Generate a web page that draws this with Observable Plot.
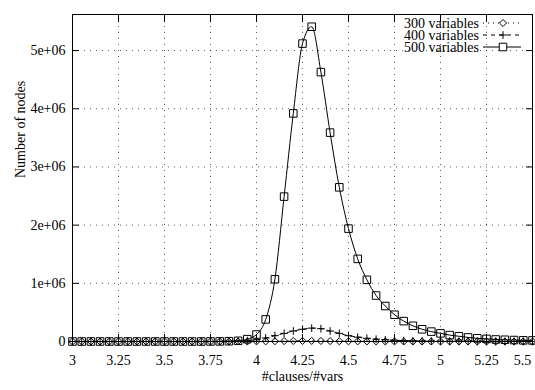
<!DOCTYPE html>
<html><head><meta charset="utf-8">
<script src="https://cdn.jsdelivr.net/npm/d3@7"></script>
<script src="https://cdn.jsdelivr.net/npm/@observablehq/plot@0.6"></script>
<style>
html,body{margin:0;padding:0;background:#fff;}
#wrap{position:relative;width:535px;height:390px;}
#wrap svg, #wrap svg text{font-family:"Liberation Serif","Times New Roman",Times,"DejaVu Serif",serif !important;}
#legend{position:absolute;top:0;left:0;pointer-events:none;}
</style></head><body><div id="wrap"></div>
<script>
const ratio = [3.00,3.05,3.10,3.15,3.20,3.25,3.30,3.35,3.40,3.45,3.50,3.55,3.60,3.65,3.70,3.75,3.80,3.85,3.90,3.95,
  4.00,4.05,4.10,4.15,4.20,4.25,4.30,4.35,4.40,4.45,4.50,4.55,4.60,4.65,4.70,4.75,4.80,4.85,4.90,4.95,
  5.00,5.05,5.10,5.15,5.20,5.25,5.30,5.35,5.40,5.45,5.50];
const nodes300 = [0,0,0,0,0,0,0,0,0,0,0,0,0,0,0,0,0,0,500,1000,
  2000,3000,5000,7000,9000,10000,10000,9000,7000,5000,4000,3000,2000,1500,1000,800,600,500,400,300,
  200,200,100,100,100,100,100,100,100,100,100];
const nodes400 = [0,0,0,0,0,0,0,0,0,0,0,0,0,0,0,0,1000,3000,8000,15000,
  30000,60000,100000,140000,180000,210000,230000,220000,180000,140000,100000,75000,55000,40000,30000,22000,16000,12000,9000,7000,
  5000,4000,3000,3000,2000,2000,2000,1000,1000,1000,1000];
const nodes500 = [0,0,0,0,0,0,0,0,0,0,0,0,0,0,0,1000,2000,5000,12000,40000,
  120000,380000,1070000,2490000,3920000,5120000,5410000,4630000,3590000,2650000,1940000,1420000,1060000,790000,610000,460000,350000,270000,210000,170000,
  140000,110000,90000,70000,55000,45000,35000,30000,25000,20000,18000];
const seriesNames = ["300 variables","400 variables","500 variables"];
const xTicks = [3,3.25,3.5,3.75,4,4.25,4.5,4.75,5,5.25,5.5];
const xTickLabels = ["3","3.25","3.5","3.75","4","4.25","4.5","4.75","5","5.25","5.5"];
const yTicks = [0,1e6,2e6,3e6,4e6,5e6];
const yTickLabels = ["0","1e+06","2e+06","3e+06","4e+06","5e+06"];
const xTitle = "#clauses/#vars";
const yTitle = "Number of nodes";

const FONT = "'Liberation Serif', 'Times New Roman', Times, 'DejaVu Serif', serif";
const seriesValues = [nodes300, nodes400, nodes500];
const seriesStyle = [
  {dash: "1,4", symbol: "diamond2", r: 3.2},
  {dash: "4,4", symbol: "plus", r: 2.6},
  {dash: null, symbol: "square2", r: 4.8}
];
const data = seriesNames.flatMap((s, k) => ratio.map((r, i) => ({ratio: r, nodes: seriesValues[k][i], series: s})));
const xLab = new Map(xTicks.map((t, i) => [t, xTickLabels[i]]));
const yLab = new Map(yTicks.map((t, i) => [t, yTickLabels[i]]));
const lastX = xTicks[xTicks.length - 1];

const marks = [
  Plot.gridX(xTicks, {stroke: "#000", strokeOpacity: 0.65, strokeDasharray: "1,5"}),
  Plot.gridY(yTicks, {stroke: "#000", strokeOpacity: 0.65, strokeDasharray: "1,5"}),
  Plot.frame({stroke: "#000"}),
  // inward tick marks on all four sides
  Plot.axisX(xTicks, {anchor: "bottom", tickSize: -7, tickFormat: () => "", label: null}),
  Plot.axisX(xTicks, {anchor: "top", tickSize: -7, tickFormat: () => "", label: null}),
  Plot.axisY(yTicks, {anchor: "left", tickSize: -7, tickPadding: 14, tickFormat: d => yLab.get(d), label: null}),
  Plot.axisY(yTicks, {anchor: "right", tickSize: -7, tickFormat: () => "", label: null}),
  // x tick labels (last one pulled inside the picture)
  Plot.axisX(xTicks.filter(t => t !== lastX), {anchor: "bottom", tickSize: 0, tickPadding: 14, tickFormat: d => xLab.get(d), label: null}),
  Plot.axisX([lastX], {anchor: "bottom", tickSize: 0, tickPadding: 14, dx: -10, tickFormat: d => xLab.get(d), label: null}),
  Plot.text([xTitle], {frameAnchor: "bottom", dy: 39, text: d => d, fontSize: 14}),
  Plot.text([yTitle], {frameAnchor: "left", dx: -52, rotate: -90, text: d => d, fontSize: 14})
];
seriesNames.forEach((s, k) => {
  const st = seriesStyle[k];
  const sub = data.filter(d => d.series === s);
  marks.push(Plot.line(sub, {x: "ratio", y: "nodes", curve: "monotone-x", stroke: "#000", strokeWidth: 1, strokeDasharray: st.dash}));
  marks.push(Plot.dot(sub, {x: "ratio", y: "nodes", symbol: () => st.symbol, r: st.r, fill: "none", stroke: "#000", strokeWidth: 1}));
});

const chart = Plot.plot({
  width: 535, height: 390,
  marginLeft: 72, marginRight: 3, marginTop: 14, marginBottom: 49,
  style: {fontFamily: FONT, fontSize: "14px", background: "#fff", color: "#000"},
  x: {domain: [3, 5.5], label: null},
  y: {domain: [0, 5.62e6], label: null},
  symbol: {type: "identity"},
  marks
});
const wrap = document.getElementById("wrap");
wrap.appendChild(chart);

// legend overlay (key box inside the plot, top right)
const svg = d3.select(wrap).append("svg").attr("id", "legend").attr("width", 535).attr("height", 390)
  .attr("font-family", FONT).attr("font-size", 14);
const symMap = {diamond2: d3.symbolDiamond2, plus: d3.symbolPlus, square2: d3.symbolSquare2};
seriesNames.forEach((s, k) => {
  const st = seriesStyle[k];
  const yy = 23 + 12 * k;
  const g = svg.append("g");
  g.append("text").attr("x", 479).attr("y", yy).attr("text-anchor", "end").attr("dy", "0.35em").text(s);
  g.append("line").attr("x1", 483).attr("x2", 521).attr("y1", yy).attr("y2", yy)
    .attr("stroke", "#000").attr("stroke-dasharray", st.dash);
  g.append("path").attr("transform", `translate(503,${yy})`)
    .attr("d", d3.symbol().type(symMap[st.symbol]).size(Math.PI * st.r * st.r)())
    .attr("fill", st.symbol === "plus" ? "none" : "#fff").attr("stroke", "#000");
});
</script></body></html>
